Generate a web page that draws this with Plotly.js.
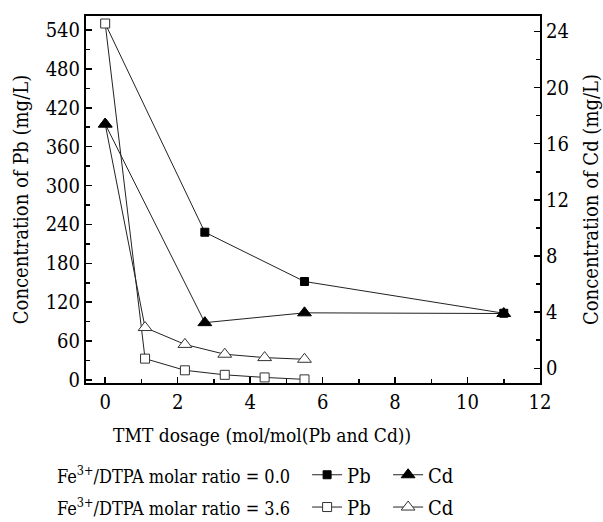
<!DOCTYPE html>
<html>
<head>
<meta charset="utf-8">
<script src="https://cdn.plot.ly/plotly-3.0.1.min.js"></script>
<style>html,body{margin:0;padding:0;background:#fff;}#chart{width:603px;height:522px;}</style>
</head>
<body>
<div id="chart"></div>
<script>
// TMT dosage (x)
var dose00 = [0, 2.75, 5.5, 11];
var dose36 = [0, 1.1, 2.2, 3.3, 4.4, 5.5];
// Fe3+/DTPA = 0.0
var pb00 = [550, 228, 152, 103];
var cd00 = [17.4, 3.25, 3.95, 3.9];
// Fe3+/DTPA = 3.6
var pb36 = [550, 33, 15, 8, 4, 1];
var cd36 = [17.4, 2.9, 1.7, 1.0, 0.76, 0.64];

var FONT = 'DejaVu Serif Condensed, DejaVu Serif';
var lineStyle = {color: '#222', width: 1};

var traces = [
  {x: dose00, y: pb00, name: 'Pb', mode: 'lines+markers', yaxis: 'y', legend: 'legend',
   line: lineStyle, marker: {symbol: 'square', size: 8, color: '#000', line: {color: '#000', width: 1}}},
  {x: dose36, y: pb36, name: 'Pb', mode: 'lines+markers', yaxis: 'y', legend: 'legend2',
   line: lineStyle, marker: {symbol: 'square', size: 9, color: '#fff', line: {color: '#333', width: 1}}},
  {x: dose36, y: cd36, name: 'Cd', mode: 'lines+markers', yaxis: 'y2', legend: 'legend2',
   line: lineStyle, marker: {symbol: 'triangle-up', size: 12, color: '#fff', line: {color: '#333', width: 1}}},
  {x: dose00, y: cd00, name: 'Cd', mode: 'lines+markers', yaxis: 'y2', legend: 'legend',
   line: lineStyle, marker: {symbol: 'triangle-up', size: 12, color: '#000', line: {color: '#000', width: 1}}}
];

var axisCommon = {
  showline: true, linecolor: '#000', linewidth: 2, ticks: 'inside', ticklen: 6, tickwidth: 1.5,
  tickcolor: '#000', showgrid: false, zeroline: false,
  tickfont: {family: FONT, size: 20, color: '#000'}
};

var layout = {
  width: 603, height: 522,
  margin: {l: 86, r: 63, t: 16, b: 139, autoexpand: false},
  paper_bgcolor: '#fff', plot_bgcolor: '#fff',
  font: {family: FONT, size: 18, color: '#000'},
  xaxis: Object.assign({}, axisCommon, {
    range: [-0.53, 12], dtick: 2, tick0: 0, mirror: true,
    minor: {dtick: 1, ticks: 'inside', ticklen: 4, tickcolor: '#000', tickwidth: 1.5}
  }),
  yaxis: Object.assign({}, axisCommon, {
    range: [-4.6, 561.6], dtick: 60, tick0: 0,
    minor: {dtick: 30, ticks: 'inside', ticklen: 4, tickcolor: '#000', tickwidth: 1.5},
    title: {text: 'Concentration of Pb (mg/L)', font: {family: FONT, size: 20, color: '#000'}, standoff: 12}
  }),
  yaxis2: Object.assign({}, axisCommon, {
    overlaying: 'y', side: 'right', range: [-1.05, 25.1], dtick: 4, tick0: 0,
    minor: {dtick: 2, ticks: 'inside', ticklen: 4, tickcolor: '#000', tickwidth: 1.5},
    title: {text: 'Concentration of Cd (mg/L)', font: {family: FONT, size: 20, color: '#000'}, standoff: 18}
  }),
  legend: {orientation: 'h', x: 0.487, y: -0.25, xanchor: 'left', yanchor: 'middle',
    font: {family: FONT, size: 20, color: '#000'}, itemwidth: 30, entrywidth: 36, bgcolor: 'rgba(0,0,0,0)'},
  legend2: {orientation: 'h', x: 0.487, y: -0.338, xanchor: 'left', yanchor: 'middle',
    font: {family: FONT, size: 20, color: '#000'}, itemwidth: 30, entrywidth: 36, bgcolor: 'rgba(0,0,0,0)'},
  annotations: [
    {text: 'TMT dosage (mol/mol(Pb and Cd))', xref: 'paper', yref: 'paper', x: 0.388, y: -0.142,
     xanchor: 'center', yanchor: 'middle', showarrow: false, font: {family: FONT, size: 19, color: '#000'}},
    {text: 'Fe<sup>3+</sup>/DTPA molar ratio = 0.0', xref: 'paper', yref: 'paper', x: -0.068, y: -0.25,
     xanchor: 'left', yanchor: 'middle', showarrow: false, font: {family: FONT, size: 18, color: '#000'}},
    {text: 'Fe<sup>3+</sup>/DTPA molar ratio = 3.6', xref: 'paper', yref: 'paper', x: -0.068, y: -0.338,
     xanchor: 'left', yanchor: 'middle', showarrow: false, font: {family: FONT, size: 18, color: '#000'}}
  ]
};

Plotly.newPlot('chart', traces, layout, {displayModeBar: false, staticPlot: true});
</script>
</body>
</html>
